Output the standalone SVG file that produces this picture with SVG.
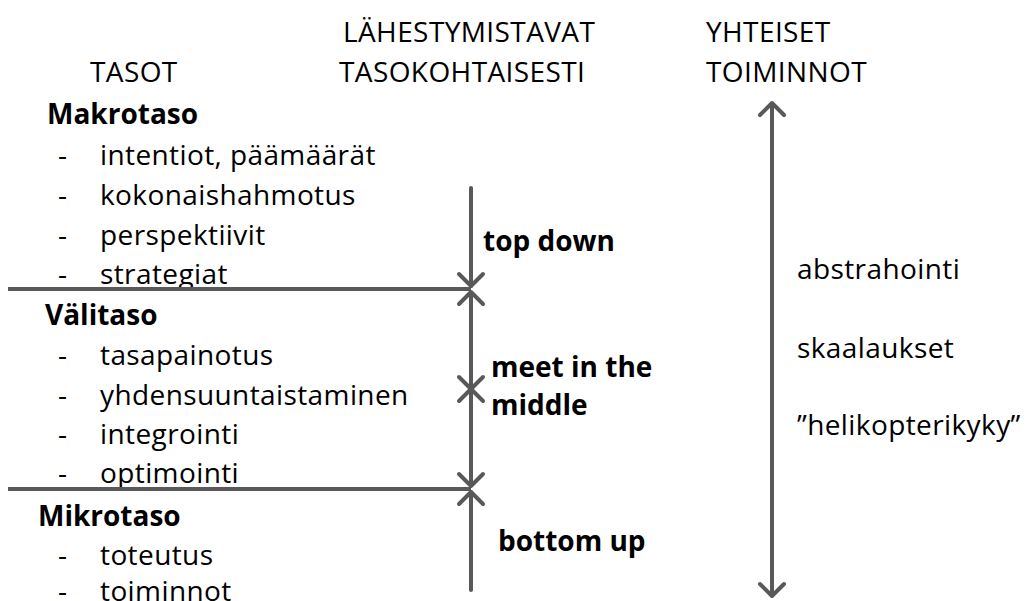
<svg xmlns="http://www.w3.org/2000/svg" width="1033" height="601" viewBox="0 0 1033 601">
  <style>
    text { font-family: "Open Sans", Lato, "Liberation Sans", sans-serif; font-size: 28px; letter-spacing: 0.4px; fill: #000; font-variant-ligatures: none; }
    .b { font-weight: bold; letter-spacing: 0; }
    .ln { stroke: #595959; stroke-width: 4; fill: none; }
    .hd { stroke: #595959; stroke-width: 4; fill: none; stroke-linecap: round; stroke-linejoin: round; }
  </style>
  <defs>
    <path id="chev-up" class="hd" d="M-12,12 L0,0 L12,12"/>
    <path id="chev-down" class="hd" d="M-12,-12 L0,0 L12,-12"/>
  </defs>

  <rect width="1033" height="601" fill="#fff"/>

  <!-- column headings -->
  <g id="headings">
    <text x="90" y="82">TASOT</text>
    <text x="343" y="42">LÄHESTYMISTAVAT</text>
    <text x="339" y="82">TASOKOHTAISESTI</text>
    <text x="706" y="42">YHTEISET</text>
    <text x="706" y="82">TOIMINNOT</text>
  </g>

  <!-- levels -->
  <g id="makrotaso">
    <text class="b" x="47" y="124">Makrotaso</text>
    <text x="58" y="165">-</text><text x="100" y="165">intentiot, päämäärät</text>
    <text x="58" y="205">-</text><text x="100" y="205">kokonaishahmotus</text>
    <text x="58" y="245">-</text><text x="100" y="245">perspektiivit</text>
    <text x="58" y="284">-</text><text x="100" y="284">strategiat</text>
  </g>
  <g id="valitaso">
    <text class="b" x="45" y="325">Välitaso</text>
    <text x="58" y="365">-</text><text x="100" y="365">tasapainotus</text>
    <text x="58" y="405">-</text><text x="100" y="405">yhdensuuntaistaminen</text>
    <text x="58" y="444">-</text><text x="100" y="444">integrointi</text>
    <text x="58" y="483">-</text><text x="100" y="483">optimointi</text>
  </g>
  <g id="mikrotaso">
    <text class="b" x="38" y="526">Mikrotaso</text>
    <text x="58" y="565">-</text><text x="100" y="565">toteutus</text>
    <text x="58" y="601">-</text><text x="100" y="601">toiminnot</text>
  </g>

  <!-- approach labels -->
  <g id="approaches">
    <text class="b" x="483" y="251">top down</text>
    <text class="b" x="491" y="377">meet in the</text>
    <text class="b" x="491" y="415">middle</text>
    <text class="b" x="498" y="551">bottom up</text>
  </g>

  <!-- shared functions -->
  <g id="shared">
    <text x="797" y="279">abstrahointi</text>
    <text x="797" y="358">skaalaukset</text>
    <text x="797" y="435">”helikopterikyky”</text>
  </g>

  <!-- connectors -->
  <g id="connectors">
    <line class="ln" x1="8" y1="289" x2="471" y2="289"/>
    <line class="ln" x1="8" y1="489" x2="471" y2="489"/>

    <!-- top down -->
    <line class="ln" x1="471" y1="188" x2="471" y2="286" stroke-linecap="round"/>
    <use href="#chev-down" x="471" y="286"/>

    <!-- meet in the middle -->
    <line class="ln" x1="471" y1="292" x2="471" y2="486"/>
    <use href="#chev-up" x="471" y="292"/>
    <use href="#chev-down" x="471" y="389"/>
    <use href="#chev-up" x="471" y="389"/>
    <use href="#chev-down" x="471" y="486"/>

    <!-- bottom up -->
    <line class="ln" x1="471" y1="492" x2="471" y2="590" stroke-linecap="round"/>
    <use href="#chev-up" x="471" y="492"/>

    <!-- shared functions span -->
    <line class="ln" x1="772" y1="103" x2="772" y2="596"/>
    <use href="#chev-up" x="772" y="103"/>
    <use href="#chev-down" x="772" y="596"/>
  </g>
</svg>
